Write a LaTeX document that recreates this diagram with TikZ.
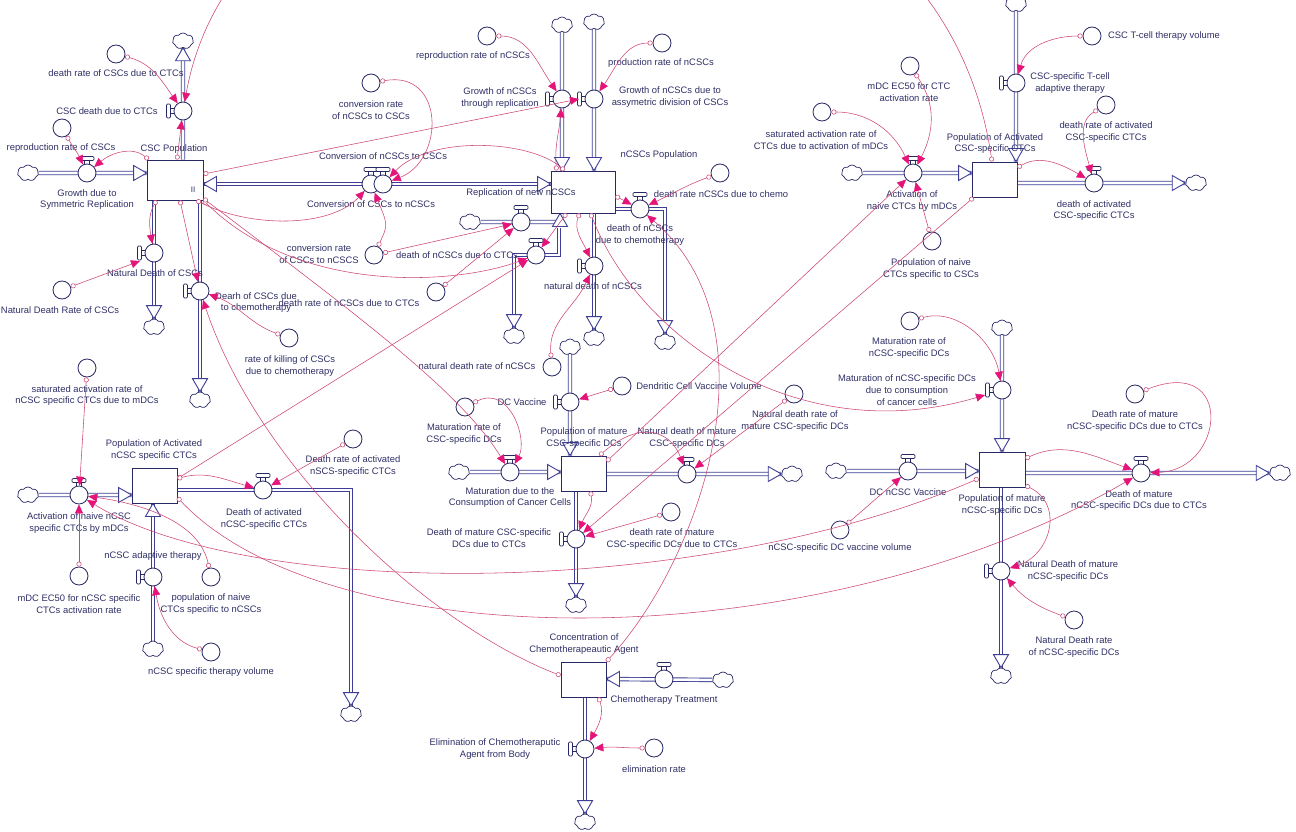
\documentclass[tikz,border=0pt]{standalone}
\usepackage{fontspec}
\setmainfont{Liberation Sans}
\usetikzlibrary{arrows.meta,shapes.symbols}
\definecolor{txtcol}{RGB}{48,48,104}
\definecolor{stockcol}{RGB}{40,40,100}
\definecolor{pipecol}{RGB}{62,62,150}
\definecolor{linkcol}{RGB}{205,70,115}
\definecolor{arrowcol}{RGB}{228,20,120}
\pgfdeclarelayer{bg}
\pgfsetlayers{bg,main}
\newcommand{\lblfont}{\fontsize{9.4}{11.8}\selectfont}
\tikzset{
 stock/.style={draw=stockcol,fill=white,line width=0.9pt,inner sep=0pt,minimum width=45pt,minimum height=35pt},
 valve/.style={circle,draw=stockcol,fill=white,line width=0.8pt,minimum size=18pt,inner sep=0pt},
 aux/.style={circle,draw=stockcol,fill=white,line width=0.8pt,minimum size=18pt,inner sep=0pt},
 cld/.style={cloud,cloud puffs=7,cloud puff arc=110,aspect=1.25,draw=stockcol,fill=white,line width=0.7pt,minimum width=21pt,minimum height=16pt,inner sep=0pt},
 lbl/.style={text=txtcol,font=\lblfont,align=center,inner sep=0.5pt},
 pipe/.style={draw=pipecol,line width=0.9pt,double=white,double distance=2.6pt},
 lnk/.style={draw=linkcol,line width=0.55pt,arrows={Circle[length=5pt,width=5pt,fill=white]-Triangle[length=9pt,width=8pt,color=arrowcol]}},
 ht/.pic={
  \draw[stockcol,line width=0.7pt,fill=white,rounded corners=1.2pt] (-7,-16.5) rectangle (7,-12.5);
  \draw[stockcol,line width=0.7pt] (-2.2,-12.5) -- (-2.2,-8.8) (2.2,-12.5) -- (2.2,-8.8);
 },
 hl/.pic={
  \draw[stockcol,line width=0.7pt,fill=white,rounded corners=1.2pt] (-16.5,-7) rectangle (-12.5,7);
  \draw[stockcol,line width=0.7pt] (-12.5,-2.2) -- (-8.8,-2.2) (-12.5,2.2) -- (-8.8,2.2);
 },
 phead/.pic={
  \draw[pipecol,line width=0.9pt,fill=white,line join=miter] (0,0) -- (-13,-7.5) -- (-13,7.5) -- cycle;
 }
}
\begin{document}
\begin{tikzpicture}[x=1pt,y=-1pt]
\useasboundingbox (0,0) rectangle (1296,832);

% ---------- stocks ----------
\node[stock,minimum width=56pt,minimum height=40pt] (csc) at (175,180) {};
\node[stock,minimum width=64pt,minimum height=42pt] (ncsc) at (583,192) {};
\node[stock] (actc) at (994.5,179.5) {};
\node[stock] (antc) at (154.5,485.5) {};
\node[stock] (cdc) at (583.5,473.5) {};
\node[stock,minimum width=46pt] (ndc) at (1002,469.5) {};
\node[stock] (chemo) at (583.5,679.5) {};
\node[lbl,font=\fontsize{8}{9}\selectfont] (cscii) at (193,190) {II};

% ---------- valves ----------
\node[valve] (vgr) at (87,173) {};
\node[valve] (vcd) at (183,111) {};
\node[valve] (vnd) at (154,253) {};
\node[valve] (vdc) at (200,291) {};
\node[valve] (vcv1) at (371,184) {};
\node[valve] (vcv2) at (383,184) {};
\node[valve] (vgn1) at (562,99) {};
\node[valve] (vgn2) at (594,99) {};
\node[valve] (vrep) at (521,222) {};
\node[valve] (vdct) at (536,255) {};
\node[valve] (vnn) at (594,266) {};
\node[valve] (vch) at (640,209) {};
\node[valve] (vact) at (913,173) {};
\node[valve] (vtc) at (1016,83) {};
\node[valve] (vdac) at (1094,183) {};
\node[valve] (vann) at (79,495) {};
\node[valve] (vdan) at (263,490) {};
\node[valve] (vnat) at (153,577) {};
\node[valve] (vdcv) at (570,402) {};
\node[valve] (vmat) at (510,472) {};
\node[valve] (vndm) at (687,474) {};
\node[valve] (vdmc) at (576,539) {};
\node[valve] (vdnv) at (908,471) {};
\node[valve] (vmn) at (1002,390) {};
\node[valve] (vdmn) at (1141,473) {};
\node[valve] (vndn) at (1001,571) {};
\node[valve] (vct) at (664,679) {};
\node[valve] (vel) at (585,749) {};

% ---------- auxiliaries ----------
\node[aux] (a1) at (116,54) {};
\node[aux] (a2) at (62,128) {};
\node[aux] (a3) at (371,83) {};
\node[aux] (a4) at (374,255) {};
\node[aux] (a5) at (62,290) {};
\node[aux] (a6) at (289,338) {};
\node[aux] (a7) at (87,368) {};
\node[aux] (a8) at (353,439) {};
\node[aux] (a9) at (79,576) {};
\node[aux] (a10) at (211,577) {};
\node[aux] (a11) at (211,652) {};
\node[aux] (a12) at (487,36) {};
\node[aux] (a13) at (662,43) {};
\node[aux] (a14) at (720,173) {};
\node[aux] (a15) at (822,112) {};
\node[aux] (a16) at (910,66) {};
\node[aux] (a17) at (1092,36) {};
\node[aux] (a18) at (1106,105) {};
\node[aux] (a19) at (932,241) {};
\node[aux] (a20) at (436,292) {};
\node[aux] (a21) at (552,367) {};
\node[aux] (a22) at (622,386) {};
\node[aux] (a23) at (465,407) {};
\node[aux] (a24) at (794,394) {};
\node[aux] (a25) at (671,512) {};
\node[aux] (a26) at (910,321) {};
\node[aux] (a27) at (1135,394) {};
\node[aux] (a28) at (840,530) {};
\node[aux] (a29) at (1074,620) {};
\node[aux] (a30) at (654,748) {};

% ---------- clouds ----------
\node[cld] (kgr) at (28,173) {};
\node[cld] (kcd) at (183,41) {};
\node[cld] (knd) at (154,327) {};
\node[cld] (kdc) at (200,400) {};
\node[cld] (kgn1) at (562,25) {};
\node[cld] (kgn2) at (594,22) {};
\node[cld] (krep) at (470,222) {};
\node[cld] (kdct) at (514,336) {};
\node[cld] (knn) at (594,338) {};
\node[cld] (kch) at (665,342) {};
\node[cld] (kact) at (852,173) {};
\node[cld] (ktc) at (1016,4) {};
\node[cld] (kdac) at (1196,183) {};
\node[cld] (kann) at (28,495) {};
\node[cld] (kdan) at (351,714) {};
\node[cld] (knat) at (153,649) {};
\node[cld] (kdcv) at (570,347) {};
\node[cld] (kmat) at (459,472) {};
\node[cld] (kndm) at (792,474) {};
\node[cld] (kdmc) at (576,605) {};
\node[cld] (kdnv) at (836,471) {};
\node[cld] (kmn) at (1002,328) {};
\node[cld] (kdmn) at (1280,473) {};
\node[cld] (kndn) at (1001,676) {};
\node[cld] (kct) at (723,680) {};
\node[cld] (kel) at (585,822) {};

\coordinate (rq) at (560,222);
\coordinate (dq1) at (559,228);
\coordinate (dq2) at (559,255);
\coordinate (dq3) at (514,255);
\coordinate (chq) at (665,209);
\coordinate (danq) at (351,490);

% ---------- pipes ----------
\begin{pgfonlayer}{bg}
\fill[white] (0,0) rectangle (1296,832);
\draw[pipe] (kgr) -- (csc.west |- vgr); \pic at (csc.west |- vgr) {phead};
\draw[pipe] (csc.north -| vcd) -- (kcd); \pic[rotate=90] at (kcd.south) {phead};
\draw[pipe] (csc.south -| vnd) -- (knd); \pic[rotate=-90] at (knd.north) {phead};
\draw[pipe] (csc.south -| vdc) -- (kdc); \pic[rotate=-90] at (kdc.north) {phead};
\draw[pipe] (ncsc.west |- vcv1) -- (csc.east |- vcv1);
\pic[rotate=180] at (csc.east |- vcv1) {phead}; \pic at (ncsc.west |- vcv1) {phead};
\draw[pipe] (kgn1) -- (ncsc.north -| vgn1); \pic[rotate=-90] at (ncsc.north -| vgn1) {phead};
\draw[pipe] (kgn2) -- (ncsc.north -| vgn2); \pic[rotate=-90] at (ncsc.north -| vgn2) {phead};
\draw[pipe] (dq1) -- (dq2) -- (dq3) -- (kdct); \pic[rotate=-90] at (kdct.north) {phead};
\draw[pipe] (krep) -- (rq); \pic[rotate=90] at (ncsc.south -| rq) {phead};
\draw[pipe] (ncsc.south -| vnn) -- (knn); \pic[rotate=-90] at (knn.north) {phead};
\draw[pipe] (ncsc.east |- vch) -- (chq) -- (kch); \pic[rotate=-90] at (kch.north) {phead};
\draw[pipe] (kact) -- (actc.west |- vact); \pic at (actc.west |- vact) {phead};
\draw[pipe] (ktc) -- (actc.north -| vtc); \pic[rotate=-90] at (actc.north -| vtc) {phead};
\draw[pipe] (actc.east |- vdac) -- (kdac); \pic at (kdac.west) {phead};
\draw[pipe] (kann) -- (antc.west |- vann); \pic at (antc.west |- vann) {phead};
\draw[pipe] (antc.east |- vdan) -- (danq) -- (kdan); \pic[rotate=-90] at (kdan.north) {phead};
\draw[pipe] (knat) -- (antc.south -| vnat); \pic[rotate=90] at (antc.south -| vnat) {phead};
\draw[pipe] (kdcv) -- (cdc.north -| vdcv); \pic[rotate=-90] at (cdc.north -| vdcv) {phead};
\draw[pipe] (kmat) -- (cdc.west |- vmat); \pic at (cdc.west |- vmat) {phead};
\draw[pipe] (cdc.east |- vndm) -- (kndm); \pic at (kndm.west) {phead};
\draw[pipe] (cdc.south -| vdmc) -- (kdmc); \pic[rotate=-90] at (kdmc.north) {phead};
\draw[pipe] (kdnv) -- (ndc.west |- vdnv); \pic at (ndc.west |- vdnv) {phead};
\draw[pipe] (kmn) -- (ndc.north -| vmn); \pic[rotate=-90] at (ndc.north -| vmn) {phead};
\draw[pipe] (ndc.east |- vdmn) -- (kdmn); \pic at (kdmn.west) {phead};
\draw[pipe] (ndc.south -| vndn) -- (kndn); \pic[rotate=-90] at (kndn.north) {phead};
\draw[pipe] (kct) -- (chemo.east |- vct); \pic[rotate=180] at (chemo.east |- vct) {phead};
\draw[pipe] (chemo.south -| vel) -- (kel); \pic[rotate=-90] at (kel.north) {phead};
\end{pgfonlayer}

% ---------- valve handles ----------
\foreach \v in {vgr,vcv1,vcv2,vrep,vdct,vch,vact,vdac,vann,vdan,vmat,vndm,vdnv,vdmn,vct} {\pic at (\v) {ht};}
\foreach \v in {vcd,vnd,vdc,vgn1,vgn2,vnn,vtc,vnat,vdcv,vdmc,vmn,vndn,vel} {\pic at (\v) {hl};}

% ---------- labels ----------
\node[lbl] (lcsc) at (174,149) {CSC Population};
\node[lbl] (lncsc) at (659,155) {nCSCs Population};
\node[lbl] (lactc) at (995,143.5) {Population of Activated\\CSC-specific CTCs};
\node[lbl] (lantc) at (154,450) {Population of Activated\\nCSC specific CTCs};
\node[lbl] (lcdc) at (584,438) {Population of mature\\CSC-specific DCs};
\node[lbl] (lndc) at (1002,505) {Population of mature\\nCSC-specific DCs};
\node[lbl] (lchemo) at (584,644) {Concentration of\\Chemotherapeautic Agent};

\node[lbl] (lvgr) at (87,199.5) {Growth due to\\Symmetric Replication};
\node[lbl] (lvcd) at (107,111) {CSC death due to CTCs};
\node[lbl] (lvnd) at (155,273) {Natural Death of CSCs};
\node[lbl] (lvdc) at (256,302.5) {Dearh of CSCs due\\to chemotherapy};
\node[lbl] (lvcv1) at (383,156) {Conversion of nCSCs to CSCs};
\node[lbl] (lvcv2) at (371,204) {Conversion of CSCs to nCSCs};
\node[lbl] (lvgn1) at (500,98) {Growth of nCSCs\\through replication};
\node[lbl] (lvgn2) at (670,97) {Growth of nCSCs due to\\assymetric division of CSCs};
\node[lbl] (lvrep) at (521,193) {Replication of new nCSCs};
\node[lbl] (lvdct) at (457,255) {death of nCSCs due to CTCs};
\node[lbl] (lvnn) at (593,286) {natural death of nCSCs};
\node[lbl] (lvch) at (640,235) {death of nCSCs\\due to chemotherapy};
\node[lbl] (lvact) at (912,201) {Activation of\\naive CTCs by mDCs};
\node[lbl] (lvtc) at (1070,83) {CSC-specific T-cell\\adaptive therapy};
\node[lbl] (lvdac) at (1094,210.5) {death of activated\\CSC-specific CTCs};
\node[lbl] (lvann) at (79,523) {Activation of naive nCSC\\specific CTCs by mDCs};
\node[lbl] (lvdan) at (264,519) {Death of activated\\nCSC-specific CTCs};
\node[lbl] (lvnat) at (153,556) {nCSC adaptive therapy};
\node[lbl] (lvdcv) at (522,402) {DC Vaccine};
\node[lbl] (lvmat) at (510,497.5) {Maturation due to the\\Consumption of Cancer Cells};
\node[lbl] (lvndm) at (687,438) {Natural death of mature\\CSC-specific DCs};
\node[lbl] (lvdmc) at (489,538.5) {Death of mature CSC-specific\\DCs due to CTCs};
\node[lbl] (lvdnv) at (908,492) {DC nCSC Vaccine};
\node[lbl] (lvmn) at (907,390) {Maturation of nCSC-specific DCs\\due to consumption\\of cancer cells};
\node[lbl] (lvdmn) at (1139,500.5) {Death of mature\\nCSC-specific DCs due to CTCs};
\node[lbl] (lvndn) at (1068,571) {Natural Death of mature\\nCSC-specific DCs};
\node[lbl] (lvct) at (664,700) {Chemotherapy Treatment};
\node[lbl] (lvel) at (495,749) {Elimination of Chemotheraputic\\Agent from Body};

\node[lbl] (la1) at (116,73) {death rate of CSCs due to CTCs};
\node[lbl] (la2) at (61,148) {reproduction rate of CSCs};
\node[lbl] (la3) at (371,110) {conversion rate\\of nCSCs to CSCs};
\node[lbl] (la4) at (319,254.5) {conversion rate\\of CSCs to nCSCS};
\node[lbl] (la5) at (60,310) {Natural Death Rate of CSCs};
\node[lbl] (la6) at (290,366) {rate of killing of CSCs\\due to chemotherapy};
\node[lbl] (la7) at (87,395.5) {saturated activation rate of\\nCSC specific CTCs due to mDCs};
\node[lbl] (la8) at (353,466) {Death rate of activated\\nSCS-specific CTCs};
\node[lbl] (la9) at (79,604) {mDC EC50 for nCSC specific\\CTCs activation rate};
\node[lbl] (la10) at (211,604) {population of naive\\CTCs specific to nCSCs};
\node[lbl] (la11) at (211,672) {nCSC specific therapy volume};
\node[lbl] (la12) at (473,56) {reproduction rate of nCSCs};
\node[lbl] (la13) at (661,63) {production rate of nCSCs};
\node[lbl] (la14) at (721,194) {death rate nCSCs due to chemo};
\node[lbl] (la15) at (821,140) {saturated activation rate of\\CTCs due to activation of mDCs};
\node[lbl] (la16) at (909,92) {mDC EC50 for CTC\\activation rate};
\node[lbl] (la17) at (1164,36) {CSC T-cell therapy volume};
\node[lbl] (la18) at (1106,132) {death rate of activated\\CSC-specific CTCs};
\node[lbl] (la19) at (931,269) {Population of naive\\CTCs specific to CSCs};
\node[lbl] (la20) at (349,303) {death rate of nCSCs due to CTCs};
\node[lbl] (la21) at (477,366) {natural death rate of nCSCs};
\node[lbl] (la22) at (699,386) {Dendritic Cell Vaccine Volume};
\node[lbl] (la23) at (464,434) {Maturation rate of\\CSC-specific DCs};
\node[lbl] (la24) at (795,421) {Natural death rate of\\mature CSC-specific DCs};
\node[lbl] (la25) at (672,539) {death rate of mature\\CSC-specific DCs due to CTCs};
\node[lbl] (la26) at (909,348) {Maturation rate of\\nCSC-specific DCs};
\node[lbl] (la27) at (1135,421) {Death rate of mature\\nCSC-specific DCs due to CTCs};
\node[lbl] (la28) at (840,548) {nCSC-specific DC vaccine volume};
\node[lbl] (la29) at (1074,647) {Natural Death rate\\of nCSC-specific DCs};
\node[lbl] (la30) at (654,769) {elimination rate};

% ---------- links ----------
\draw[lnk] (a1) to[out=-15,in=125] (vcd);
\draw[lnk] ([xshift=-2.5pt]actc.north) .. controls (930,-260) and (250,-260) .. (vcd);
\draw[lnk] (a2) to[out=-60,in=115] (vgr);
\draw[lnk] ([xshift=2pt]csc.north west) to[out=140,in=40] (vgr);
\draw[lnk] ([xshift=2pt]csc.north) -- (vcd);
\draw[lnk] ([xshift=10pt]csc.south west) to[out=-120,in=100] (vnd);
\draw[lnk] (a5) -- ([xshift=-14pt,yshift=-8pt]vnd.center);
\draw[lnk] ([xshift=5pt]csc.south) -- (vdc);
\draw[lnk] (a6) to[out=160,in=-20] (vdc);
\draw[lnk] ([yshift=4pt]chemo.west) .. controls (430,625) and (260,470) .. (vdc);
\draw[lnk] ([yshift=6pt]csc.east) -- ([xshift=-15pt]vgn2.center);
\draw[lnk] (a12) to[out=0,in=125] (vgn1);
\draw[lnk] (a13) to[out=180,in=55] (vgn2);
\draw[lnk] ([xshift=6pt]ncsc.north west) to[out=95,in=-95] (vgn1);
\draw[lnk] ([xshift=14pt]ncsc.north west) .. controls (530,140) and (430,135) .. (vcv2);
\draw[lnk] (a3) .. controls (445,70) and (445,160) .. (vcv2);
\draw[lnk] ([xshift=-7pt]csc.south east) .. controls (250,228) and (330,228) .. (vcv1);
\draw[lnk] (a4) .. controls (388,225) .. (vcv1);
\draw[lnk] (a4) -- (vrep);
\draw[lnk] (a20) -- (vrep);
\draw[lnk] (csc.south east) .. controls (300,295) and (455,285) .. (vdct);
\draw[lnk] ([yshift=-11pt]antc.north east) -- (vdct);
\draw[lnk] ([xshift=16pt]ncsc.south west) -- (vdct);
\draw[lnk] ([xshift=29pt]ncsc.south west) to[out=-110,in=115] (vnn);
\draw[lnk] ([xshift=40pt]ncsc.south west) .. controls (640,340) and (800,450) .. ([xshift=-17pt,yshift=-5pt]vmn.center);
\draw[lnk] ([yshift=-4pt]ncsc.east) -- (vch);
\draw[lnk] (a14) to[out=200,in=25] (vch);
\draw[lnk] (chemo.north east) .. controls (700,560) and (780,330) .. (vch);
\draw[lnk] (a21) to[out=95,in=-115] (vnn);
\draw[lnk] (a22) -- (vdcv);
\draw[lnk] (a23) .. controls (510,385) and (528,440) .. (vmat);
\draw[lnk] ([yshift=2pt]csc.south east) .. controls (350,310) and (460,390) .. (vmat);
\draw[lnk] ([xshift=-7pt]cdc.north east) .. controls (640,420) and (670,430) .. (vndm);
\draw[lnk] ([yshift=-6pt]cdc.north east) -- (vact);
\draw[lnk] ([xshift=2pt]actc.south west) -- (vdmc);
\draw[lnk] ([xshift=7pt]cdc.south) to[out=-80,in=70] (vdmc);
\draw[lnk] (a25) -- (vdmc);
\draw[lnk] (a24) -- (vndm);
\draw[lnk] ([yshift=-11pt]antc.north east) to[out=15,in=165] (vdan);
\draw[lnk] (a8) -- (vdan);
\draw[lnk] (a7) -- (vann);
\draw[lnk] (a9) -- (vann);
\draw[lnk] ([yshift=-12pt]antc.east) .. controls (330,660) and (820,660) .. (vdmn);
\draw[lnk] ([yshift=-9pt]ndc.west) .. controls (700,600) and (250,600) .. (vann);
\draw[lnk] (a10) .. controls (200,525) and (150,505) .. (vann);
\draw[lnk] (a11) to[out=165,in=-80] (vnat);
\draw[lnk] (a28) -- (vdnv);
\draw[lnk] ([yshift=-7pt]ndc.north east) to[out=25,in=160] (vdmn);
\draw[lnk] (a27) .. controls (1235,355) and (1225,470) .. (vdmn);
\draw[lnk] ([yshift=2pt]ndc.south east) .. controls (1065,505) and (1050,555) .. (vndn);
\draw[lnk] (a29) to[out=160,in=-50] (vndn);
\draw[lnk] (a26) to[out=15,in=100] (vmn);
\draw[lnk] (a15) to[out=0,in=115] (vact);
\draw[lnk] (a16) .. controls (940,110) and (930,140) .. (vact);
\draw[lnk] (a19) -- (vact);
\draw[lnk] (a17) to[out=180,in=75] (vtc);
\draw[lnk] ([yshift=-6pt]actc.north east) to[out=30,in=150] (vdac);
\draw[lnk] (a18) to[out=210,in=105] (vdac);
\draw[lnk] ([xshift=-8pt]chemo.south east) to[out=-70,in=60] (vel);
\draw[lnk] (a30) to[out=180,in=5] (vel);
\end{tikzpicture}
\end{document}
